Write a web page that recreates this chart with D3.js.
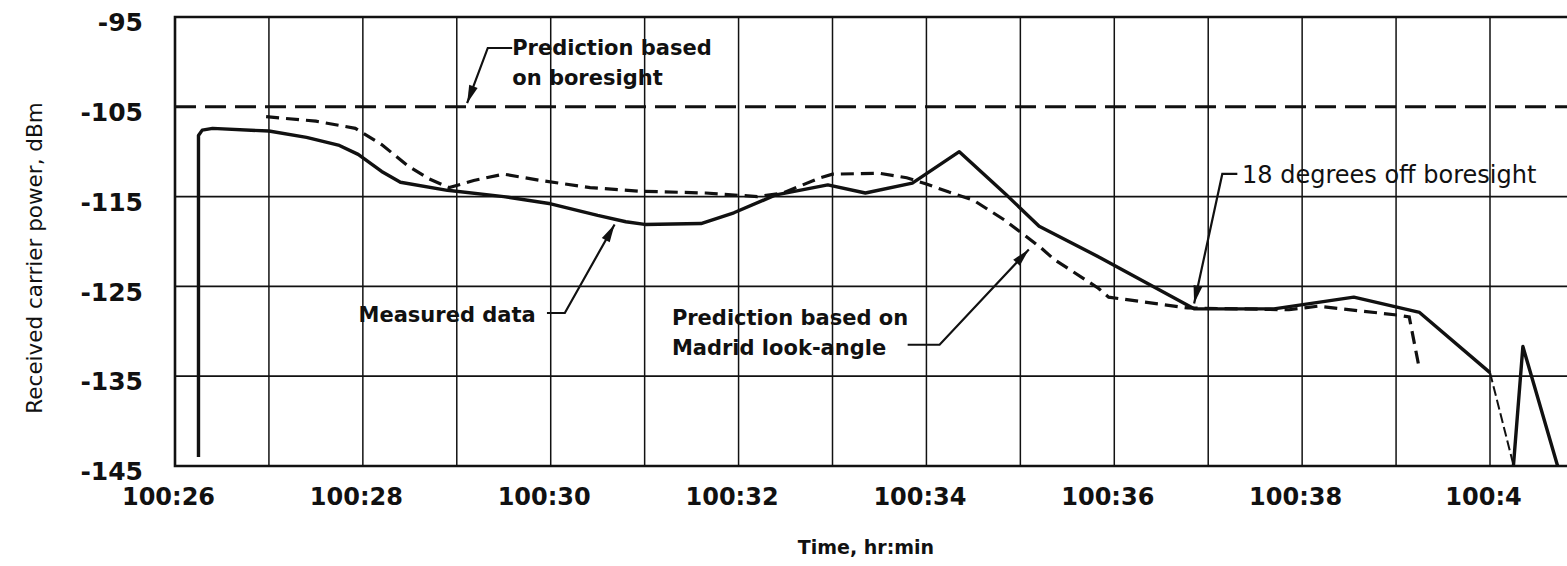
<!DOCTYPE html>
<html>
<head>
<meta charset="utf-8">
<script src="https://cdn.jsdelivr.net/npm/d3@7"></script>
<style>
  html, body { margin: 0; padding: 0; background: #fff; }
  svg { display: block; }
</style>
</head>
<body>
<div id="chart"></div>
<script>
// time in minutes after 100 h, power in dBm
const gridMinutes = [26, 27, 28, 29, 30, 31, 32, 33, 34, 35, 36, 37, 38, 39, 40];
const xTickMinutes = [26, 28, 30, 32, 34, 36, 38, 40];
const xTickLabels = ["100:26", "100:28", "100:30", "100:32", "100:34", "100:36", "100:38", "100:4"];
const yTicks = [-95, -105, -115, -125, -135, -145];
const gridPowers = [-115, -125, -135];

const measuredTime = [26.25, 26.25, 26.29, 26.4, 27.0, 27.4, 27.75, 27.95, 28.2, 28.4, 28.9, 29.5, 30.0, 30.5, 30.8, 31.0, 31.6, 31.95, 32.4, 32.95, 33.35, 33.85, 34.35, 34.85, 35.2, 35.85, 36.85, 37.7, 38.55, 39.25, 40.0];
const measuredPower = [-144.0, -108.2, -107.6, -107.4, -107.7, -108.4, -109.3, -110.3, -112.2, -113.4, -114.3, -115.0, -115.8, -117.1, -117.8, -118.1, -118.0, -116.8, -114.8, -113.7, -114.6, -113.5, -110.0, -114.8, -118.3, -121.8, -127.5, -127.5, -126.2, -127.9, -134.6];
// faint drop after 100:40, then the last spike
const measuredFaintTime = [40.0, 40.25];
const measuredFaintPower = [-134.6, -144.9];
const measuredSpikeTime = [40.25, 40.35, 40.72];
const measuredSpikePower = [-144.9, -131.7, -145.0];

const madridTime = [26.97, 27.5, 27.92, 28.2, 28.47, 28.7, 28.92, 29.18, 29.5, 29.89, 30.42, 30.94, 31.65, 32.2, 32.47, 32.87, 33.0, 33.5, 33.79, 34.0, 34.24, 34.5, 34.83, 35.22, 35.36, 35.83, 35.94, 36.78, 37.86, 38.17, 39.02, 39.14, 39.25];
const madridPower = [-106.1, -106.6, -107.4, -109.2, -111.5, -113.0, -114.0, -113.2, -112.5, -113.2, -114.0, -114.4, -114.6, -115.0, -114.6, -112.9, -112.5, -112.4, -112.9, -113.6, -114.5, -115.4, -117.6, -120.7, -122.0, -125.2, -126.2, -127.4, -127.6, -127.2, -128.2, -128.4, -134.3];

const boresightTime = [26, 40.9];
const boresightPower = [-105, -105];

const width = 1567;
const height = 566;
const ink = "#111";

const x = d3.scaleLinear().domain([26, 40]).range([175, 1490]);
const y = d3.scaleLinear().domain([-95, -145]).range([17, 466]);
const xEnd = 40.9;

const svg = d3.select("#chart").append("svg")
  .attr("width", width)
  .attr("height", height)
  .style("background", "#fff");

const zip = (ts, ps) => ts.map((t, i) => [t, ps[i]]);
const line = d3.line().x((d) => x(d[0])).y((d) => y(d[1]));

// grid
const grid = svg.append("g");
grid.selectAll(".vgrid")
  .data(gridMinutes.slice(1))
  .enter()
  .append("line")
  .attr("x1", (d) => x(d)).attr("x2", (d) => x(d))
  .attr("y1", y(-95)).attr("y2", y(-145))
  .attr("stroke", ink).attr("stroke-width", 1.5);

grid.selectAll(".hgrid")
  .data(gridPowers)
  .enter()
  .append("line")
  .attr("x1", x(26)).attr("x2", x(xEnd))
  .attr("y1", (d) => y(d)).attr("y2", (d) => y(d))
  .attr("stroke", ink).attr("stroke-width", 1.8);

// frame: top, bottom, left
grid.append("path")
  .attr("d", `M${x(xEnd)},${y(-95)}H${x(26)}V${y(-145)}H${x(xEnd)}`)
  .attr("fill", "none").attr("stroke", ink).attr("stroke-width", 2.6);

// axes
const yAxis = svg.append("g")
  .attr("transform", `translate(${x(26) - 32},0)`)
  .call(d3.axisLeft(y).tickValues(yTicks).tickSize(0).tickPadding(0).tickFormat((d) => d));
yAxis.select(".domain").remove();
yAxis.selectAll("text")
  .attr("dy", "0.55em")
  .style("font-family", "DejaVu Sans")
  .style("font-weight", "bold")
  .style("font-size", "25px")
  .attr("fill", ink);

const xAxis = svg.append("g")
  .attr("transform", `translate(-7,${y(-145) + 21})`)
  .call(d3.axisBottom(x).tickValues(xTickMinutes).tickSize(0).tickPadding(0)
    .tickFormat((d, i) => xTickLabels[i]));
xAxis.select(".domain").remove();
xAxis.selectAll("text")
  .attr("dy", "0.75em")
  .style("font-family", "DejaVu Sans")
  .style("font-weight", "bold")
  .style("font-size", "24px")
  .attr("fill", ink);

svg.append("text")
  .attr("x", 866).attr("y", 554)
  .attr("text-anchor", "middle")
  .style("font-family", "DejaVu Sans")
  .style("font-weight", "bold")
  .style("font-size", "19px")
  .attr("fill", ink)
  .text("Time, hr:min");

svg.append("text")
  .attr("transform", "translate(42,258) rotate(-90)")
  .attr("text-anchor", "middle")
  .style("font-family", "DejaVu Sans")
  .style("font-size", "21.5px")
  .attr("fill", ink)
  .text("Received carrier power, dBm");

// series
svg.append("path")
  .attr("d", line(zip(boresightTime, boresightPower)))
  .attr("fill", "none").attr("stroke", ink)
  .attr("stroke-width", 3).attr("stroke-dasharray", "21,9");

svg.append("path")
  .attr("d", line(zip(madridTime, madridPower)))
  .attr("fill", "none").attr("stroke", ink)
  .attr("stroke-width", 3.2).attr("stroke-dasharray", "13,7");

svg.append("path")
  .attr("d", line(zip(measuredTime, measuredPower)))
  .attr("fill", "none").attr("stroke", ink)
  .attr("stroke-width", 3.4).attr("stroke-linejoin", "round");

svg.append("path")
  .attr("d", line(zip(measuredFaintTime, measuredFaintPower)))
  .attr("fill", "none").attr("stroke", ink)
  .attr("stroke-width", 2).attr("stroke-dasharray", "10,4");

svg.append("path")
  .attr("d", line(zip(measuredSpikeTime, measuredSpikePower)))
  .attr("fill", "none").attr("stroke", ink)
  .attr("stroke-width", 3.4).attr("stroke-linejoin", "round");

// annotations, anchored in data units
const notes = [
  { lines: ["Prediction based", "on boresight"], at: [29.59, -99.23], step: 3.3, anchor: "start", weight: "bold", size: 21,
    leader: [[29.59, -98.45], [29.33, -98.45], [29.11, -104.6]] },
  { lines: ["Measured data"], at: [29.84, -128.96], step: 0, anchor: "end", weight: "bold", size: 21,
    leader: [[29.96, -127.96], [30.15, -127.96], [30.68, -118.1]] },
  { lines: ["Prediction based on", "Madrid look-angle"], at: [31.29, -129.3], step: 3.35, anchor: "start", weight: "bold", size: 21,
    leader: [[33.8, -131.5], [34.14, -131.5], [35.09, -120.9]] },
  { lines: ["18 degrees off boresight"], at: [37.36, -113.49], step: 0, anchor: "start", weight: "normal", size: 24,
    leader: [[37.31, -112.48], [37.15, -112.48], [36.85, -126.9]] },
];

const noteG = svg.append("g").selectAll("g").data(notes).enter().append("g");

noteG.each(function (n) {
  const g = d3.select(this);
  n.lines.forEach((t, i) => {
    g.append("text")
      .attr("x", x(n.at[0]))
      .attr("y", y(n.at[1] - i * n.step))
      .attr("text-anchor", n.anchor)
      .style("font-family", "DejaVu Sans")
      .style("font-weight", n.weight)
      .style("font-size", n.size + "px")
      .attr("fill", ink)
      .text(t);
  });
  g.append("path")
    .attr("d", line(n.leader))
    .attr("fill", "none").attr("stroke", ink).attr("stroke-width", 2.2);
  // arrow head at the last leader point
  const p = n.leader[n.leader.length - 2];
  const q = n.leader[n.leader.length - 1];
  const ang = Math.atan2(y(q[1]) - y(p[1]), x(q[0]) - x(p[0])) * 180 / Math.PI;
  g.append("path")
    .attr("d", "M0,0L-18,-4.5L-18,4.5Z")
    .attr("transform", `translate(${x(q[0])},${y(q[1])}) rotate(${ang})`)
    .attr("fill", ink);
});
</script>
</body>
</html>
